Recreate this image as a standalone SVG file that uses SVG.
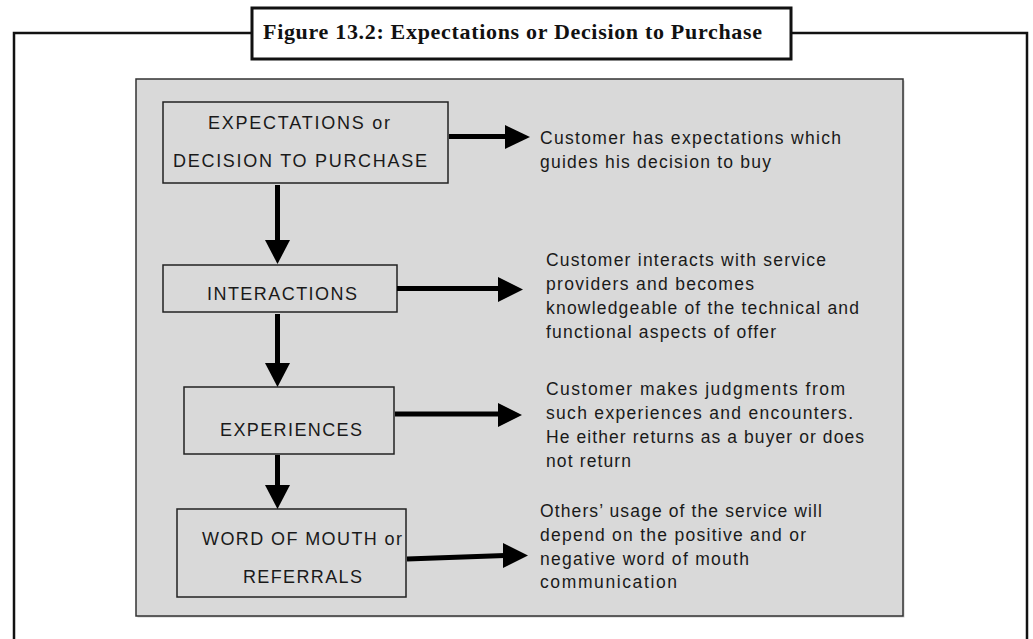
<svg xmlns="http://www.w3.org/2000/svg" width="1033" height="639" viewBox="0 0 1033 639">
<style>
.frame{fill:none;stroke:#111;stroke-width:2.5}
.title{font-family:"Liberation Serif",serif;font-weight:bold;font-size:22px;fill:#111}
.node rect{fill:none;stroke:#222;stroke-width:1.5}
.lbl{font-family:"Liberation Sans",Arial,sans-serif;font-size:18px;fill:#1a1a1a}
.desc{font-family:"Liberation Sans",Arial,sans-serif;font-size:17.5px;fill:#1a1a1a}
.conn line{stroke:#000;stroke-width:5}
.conn polygon{fill:#000}
</style>
<rect x="0" y="0" width="1033" height="639" fill="#fff"/>
<polyline class="frame" points="14,639 14,33 252,33"/>
<polyline class="frame" points="791,33 1027,33 1027,639"/>
<g id="title">
<rect x="252" y="8" width="539" height="51" fill="#fff" stroke="#111" stroke-width="3"/>
<text class="title" x="263" y="39" textLength="499" lengthAdjust="spacing">Figure 13.2: Expectations or Decision to Purchase</text>
</g>
<rect x="137.5" y="80.5" width="767" height="537" fill="#999" opacity="0.5"/>
<rect id="panel" x="136" y="79" width="767" height="537" fill="#d9d9d9" stroke="#333" stroke-width="1.5"/>
<g id="n1" class="node">
<rect x="163" y="102" width="285" height="81"/>
<text class="lbl" x="208" y="129" textLength="182" lengthAdjust="spacing">EXPECTATIONS or</text>
<text class="lbl" x="173" y="167" textLength="254" lengthAdjust="spacing">DECISION TO PURCHASE</text>
</g>
<g id="n2" class="node">
<rect x="163" y="265" width="234" height="47"/>
<text class="lbl" x="207" y="300" textLength="150" lengthAdjust="spacing">INTERACTIONS</text>
</g>
<g id="n3" class="node">
<rect x="184" y="387" width="210" height="67"/>
<text class="lbl" x="220" y="436" textLength="142" lengthAdjust="spacing">EXPERIENCES</text>
</g>
<g id="n4" class="node">
<rect x="177" y="509" width="229" height="88"/>
<text class="lbl" x="202" y="545" textLength="200" lengthAdjust="spacing">WORD OF MOUTH or</text>
<text class="lbl" x="243" y="583" textLength="119" lengthAdjust="spacing">REFERRALS</text>
</g>
<g id="d1">
<text class="desc" x="540" y="144" textLength="301" lengthAdjust="spacing">Customer has expectations which</text>
<text class="desc" x="540" y="168" textLength="231" lengthAdjust="spacing">guides his decision to buy</text>
</g>
<g id="d2">
<text class="desc" x="546" y="266" textLength="280" lengthAdjust="spacing">Customer interacts with service</text>
<text class="desc" x="546" y="290" textLength="208" lengthAdjust="spacing">providers and becomes</text>
<text class="desc" x="546" y="314" textLength="313" lengthAdjust="spacing">knowledgeable of the technical and</text>
<text class="desc" x="546" y="338" textLength="230" lengthAdjust="spacing">functional aspects of offer</text>
</g>
<g id="d3">
<text class="desc" x="546" y="395" textLength="299" lengthAdjust="spacing">Customer makes judgments from</text>
<text class="desc" x="546" y="419" textLength="307" lengthAdjust="spacing">such experiences and encounters.</text>
<text class="desc" x="546" y="443" textLength="318" lengthAdjust="spacing">He either returns as a buyer or does</text>
<text class="desc" x="546" y="467" textLength="85" lengthAdjust="spacing">not return</text>
</g>
<g id="d4">
<text class="desc" x="540" y="517" textLength="282" lengthAdjust="spacing">Others’ usage of the service will</text>
<text class="desc" x="540" y="541" textLength="266" lengthAdjust="spacing">depend on the positive and or</text>
<text class="desc" x="540" y="565" textLength="209" lengthAdjust="spacing">negative word of mouth</text>
<text class="desc" x="540" y="588" textLength="137" lengthAdjust="spacing">communication</text>
</g>
<g id="connectors" class="conn">
<line x1="277.5" y1="185" x2="277.5" y2="242"/>
<polygon points="265,240 290,240 277.5,264"/>
<line x1="277.5" y1="314" x2="277.5" y2="365"/>
<polygon points="265,363 290,363 277.5,387"/>
<line x1="277.5" y1="455" x2="277.5" y2="487"/>
<polygon points="265,485 290,485 277.5,509"/>
<line x1="449" y1="136.5" x2="507" y2="136.5"/>
<polygon points="505,125 505,149 530,137"/>
<line x1="397" y1="288.5" x2="500" y2="288.5"/>
<polygon points="498,277 498,302 523,289.5"/>
<line x1="395" y1="414" x2="500" y2="414"/>
<polygon points="498,403 498,427 522,415"/>
<line x1="407" y1="559" x2="505" y2="555.5"/>
<polygon points="503,543 503,568 528,555.5"/>
</g>
</svg>
